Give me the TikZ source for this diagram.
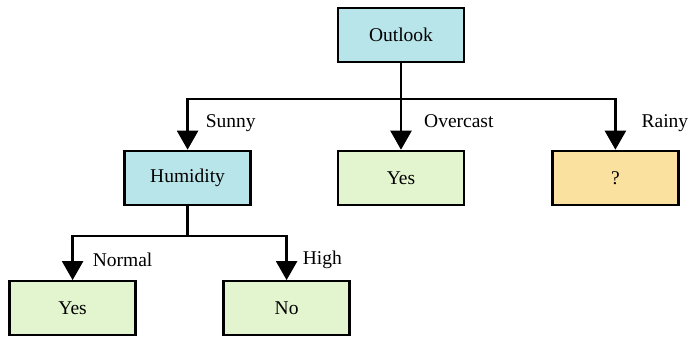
\documentclass[tikz,border=0pt]{standalone}
\usepackage{fontspec}
\setmainfont{Liberation Serif}
\usetikzlibrary{arrows.meta,positioning}

\definecolor{attrcyan}{RGB}{184,229,233}
\definecolor{leafgreen}{RGB}{227,245,207}
\definecolor{unkorange}{RGB}{251,225,160}

\begin{document}
\begin{tikzpicture}[
    x=1pt, y=1pt,
    font=\fontsize{19.5}{22}\selectfont,
    box/.style={rectangle, draw, line width=2.4pt, minimum width=126pt, minimum height=54pt, align=center},
    attr/.style={box, fill=attrcyan},
    leaf/.style={box, fill=leafgreen},
    unknown/.style={box, fill=unkorange},
    arrow/.style={-{Triangle[width=21pt,length=19pt]}, line width=2.4pt},
    label/.style={anchor=west, inner sep=0pt}
]
\useasboundingbox (0,0) rectangle (689,340);

% Root and first level
\node[attr] (outlook) at (401,305) {Outlook};
\node[leaf, below=86.5pt of outlook] (yes) {Yes};
\node[attr, left=85pt of yes] (humidity) {Humidity};
\node[unknown, right=86pt of yes] (rainy) {?};

% Second level
\node[leaf, below=74pt of humidity, xshift=-115pt] (normal) {Yes};
\node[leaf, below=74pt of humidity, xshift=99pt] (high) {No};

% Arrows
\draw[arrow] (outlook.south) -- ++(0,-36) -| node[label, pos=0.74, xshift=17pt] {Sunny} (humidity);
\draw[arrow] (outlook) -- node[label, pos=0.67, xshift=22pt] {Overcast} (yes);
\draw[arrow] (outlook.south) -- ++(0,-36) -| node[label, pos=0.74, xshift=25pt] {Rainy} (rainy);
\draw[arrow] (humidity.south) -- ++(0,-30) -| node[label, pos=0.77, xshift=19pt] {Normal} (normal);
\draw[arrow] (humidity.south) -- ++(0,-30) -| node[label, pos=0.77, xshift=15pt] {High} (high);

\end{tikzpicture}
\end{document}
